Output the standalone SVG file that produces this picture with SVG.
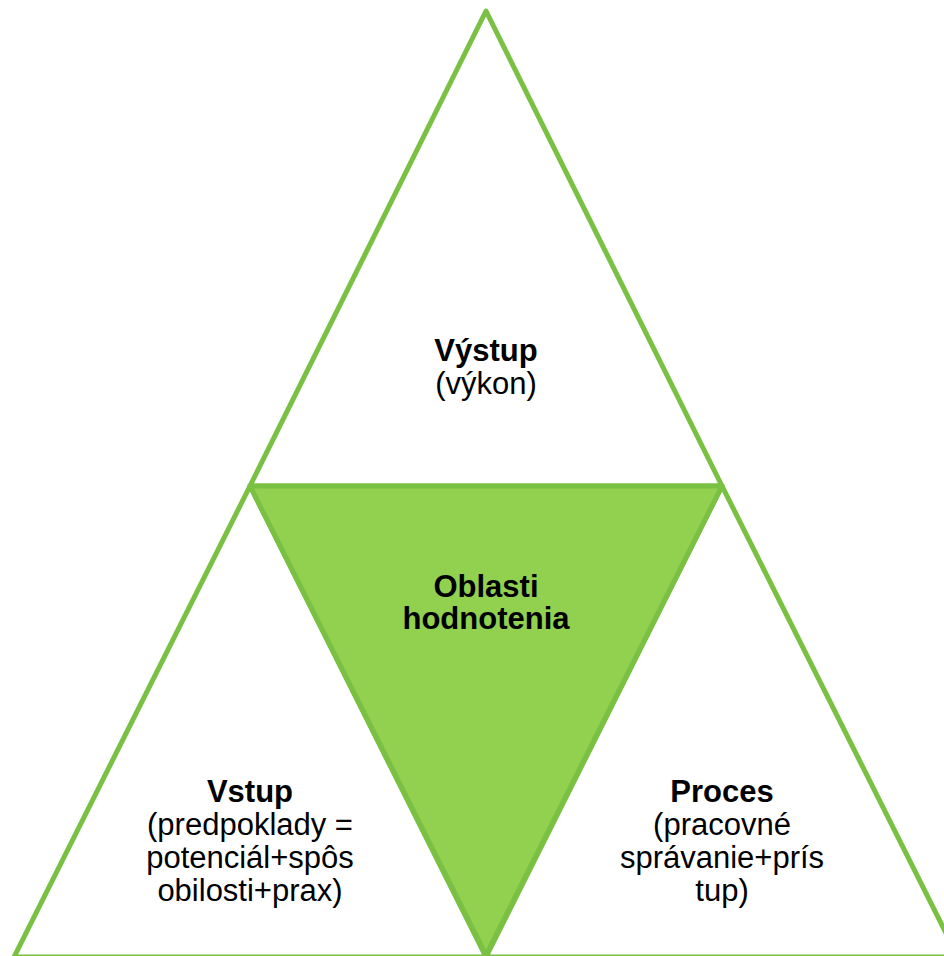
<svg xmlns="http://www.w3.org/2000/svg" width="944" height="956" viewBox="0 0 944 956">
<style>
.tri{fill:#FFFFFF;stroke:#7AC143;stroke-width:5;stroke-linejoin:round}
.ctr{fill:#92D050;stroke:#7AC143;stroke-width:5;stroke-linejoin:round}
text{font-family:"Liberation Sans",Arial,sans-serif;font-size:31px;fill:#000;text-anchor:middle}
.b{font-weight:bold}
</style>
<rect width="944" height="956" fill="#FFFFFF"/>
<g id="top">
<polygon class="tri" points="486,11 722,486 250,486"/>
<text x="486" y="361" class="b">Výstup</text>
<text x="486" y="394">(výkon)</text>
</g>
<g id="left">
<polygon class="tri" points="250,486 486,957 14,957"/>
<text x="250" y="802" class="b">Vstup</text>
<text x="250" y="835">(predpoklady =</text>
<text x="250" y="868">potenciál+spôs</text>
<text x="250" y="901">obilosti+prax)</text>
</g>
<g id="right">
<polygon class="tri" points="722,486 958,957 486,957"/>
<text x="722" y="802" class="b">Proces</text>
<text x="722" y="835">(pracovné</text>
<text x="722" y="868">správanie+prís</text>
<text x="722" y="901">tup)</text>
</g>
<g id="center">
<polygon class="ctr" points="250,486 722,486 486,955"/>
<text x="486" y="597" class="b">Oblasti</text>
<text x="486" y="629" class="b">hodnotenia</text>
</g>
<g id="connectors"></g>
</svg>
